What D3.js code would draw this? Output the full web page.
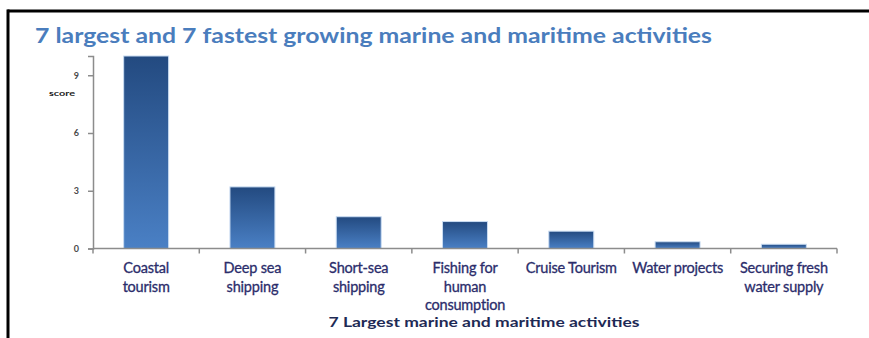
<!DOCTYPE html>
<html>
<head>
<meta charset="utf-8">
<script src="https://cdn.jsdelivr.net/npm/d3@7"></script>
<style>
  html, body { margin: 0; padding: 0; background: #fff; }
  svg { display: block; }
</style>
</head>
<body>
<svg id="chart" width="869" height="338"></svg>
<script>
// Seven largest marine and maritime activities (score)
const categories = [
  "Coastal tourism", "Deep sea shipping", "Short-sea shipping",
  "Fishing for human consumption", "Cruise Tourism", "Water projects",
  "Securing fresh water supply"
];
const categoryLines = [
  ["Coastal", "tourism"],
  ["Deep sea", "shipping"],
  ["Short-sea", "shipping"],
  ["Fishing for", "human", "consumption"],
  ["Cruise Tourism"],
  ["Water projects"],
  ["Securing fresh", "water supply"]
];
const scores = [10, 3.2, 1.65, 1.4, 0.9, 0.35, 0.22];
const yTicks = [0, 3, 6, 9];

const titleText = "7 largest and 7 fastest growing marine and maritime activities";
const xTitleText = "7 Largest marine and maritime activities";
const yTitleText = "score";

const svg = d3.select("#chart");
const font = "Lato, 'Open Sans', sans-serif";

const plotLeft = 93, plotRight = 837, plotTop = 56, plotBottom = 248.5;

const x = d3.scaleBand()
  .domain(categories)
  .range([plotLeft, plotRight])
  .paddingInner(0.577)
  .paddingOuter(0.2885);

const y = d3.scaleLinear().domain([0, 10]).range([plotBottom, plotTop]);

// frame
svg.append("line").attr("x1", 7.5).attr("x2", 869).attr("y1", 11).attr("y2", 11)
  .attr("stroke", "#000").attr("stroke-width", 3);
svg.append("line").attr("x1", 8).attr("x2", 8).attr("y1", 9.5).attr("y2", 338)
  .attr("stroke", "#000").attr("stroke-width", 3);

// title
svg.append("text")
  .attr("x", 35).attr("y", 43)
  .attr("font-family", font).attr("font-size", 20).attr("font-weight", 700)
  .attr("fill", "#4a7dbd")
  .attr("textLength", 677).attr("lengthAdjust", "spacingAndGlyphs")
  .text(titleText);

// gradient for bars
const defs = svg.append("defs");
const grad = defs.append("linearGradient").attr("id", "barGrad")
  .attr("x1", 0).attr("y1", 0).attr("x2", 0).attr("y2", 1);
grad.append("stop").attr("offset", "0%").attr("stop-color", "#234a80");
grad.append("stop").attr("offset", "100%").attr("stop-color", "#4a80c5");

// bars
svg.append("g").selectAll("rect")
  .data(categories)
  .join("rect")
  .attr("x", d => x(d))
  .attr("y", (d, i) => y(scores[i]))
  .attr("width", x.bandwidth())
  .attr("height", (d, i) => y(0) - y(scores[i]))
  .attr("fill", "url(#barGrad)")
  .attr("stroke", "#c9dcf2")
  .attr("stroke-width", 1);

// y axis
const yAxis = d3.axisLeft(y).tickValues(yTicks).tickSize(5).tickPadding(9);
const gy = svg.append("g").attr("transform", `translate(${plotLeft},0)`).call(yAxis);
gy.select(".domain").attr("stroke", "#8c8c8c").attr("stroke-width", 1.5);
gy.selectAll(".tick line").attr("stroke", "#8c8c8c").attr("stroke-width", 1.5);
gy.selectAll(".tick text")
  .attr("font-family", font).attr("font-size", 9).attr("font-weight", 700)
  .attr("fill", "#4a4a4a");

svg.append("text")
  .attr("x", 62).attr("y", 96)
  .attr("text-anchor", "middle")
  .attr("font-family", font).attr("font-size", 8).attr("font-weight", 700)
  .attr("fill", "#222")
  .attr("textLength", 26).attr("lengthAdjust", "spacingAndGlyphs")
  .text(yTitleText);

// x axis baseline and ticks at category boundaries
const step = x.step();
const xAxisG = svg.append("g");
xAxisG.append("line")
  .attr("x1", plotLeft).attr("x2", plotRight).attr("y1", plotBottom).attr("y2", plotBottom)
  .attr("stroke", "#8c8c8c").attr("stroke-width", 1.5);
const boundaries = categories.map(c => x(c) - step * x.paddingInner() / 2)
  .concat([x(categories[categories.length - 1]) + x.bandwidth() + step * x.paddingInner() / 2]);
xAxisG.selectAll("line.tick")
  .data(boundaries)
  .join("line").attr("class", "tick")
  .attr("x1", d => d).attr("x2", d => d)
  .attr("y1", plotBottom).attr("y2", plotBottom + 5)
  .attr("stroke", "#8c8c8c").attr("stroke-width", 1.5);

// category labels
const labels = svg.append("g").selectAll("text")
  .data(categories)
  .join("text")
  .attr("text-anchor", "middle")
  .attr("font-family", font).attr("font-size", 14.5)
  .attr("letter-spacing", -0.2)
  .attr("fill", "#2b2d6b")
  .attr("stroke", "#2b2d6b").attr("stroke-width", 0.3)
  .attr("transform", d => `translate(${x(d) + x.bandwidth() / 2},${plotBottom + 24.5})`);
labels.each(function(d, i) {
  d3.select(this).selectAll("tspan")
    .data(categoryLines[i])
    .join("tspan")
    .attr("x", 0)
    .attr("y", (l, j) => j * 18.5)
    .text(l => l);
});

// x axis title
svg.append("text")
  .attr("x", 484).attr("y", 327)
  .attr("text-anchor", "middle")
  .attr("font-family", font).attr("font-size", 14).attr("font-weight", 700)
  .attr("fill", "#1e2a55")
  .attr("textLength", 311).attr("lengthAdjust", "spacingAndGlyphs")
  .text(xTitleText);
</script>
</body>
</html>
